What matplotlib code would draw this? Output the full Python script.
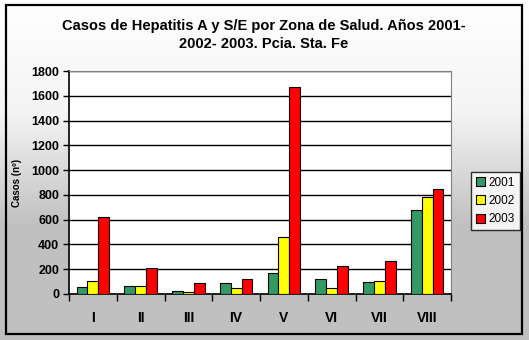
import numpy as np
import matplotlib.pyplot as plt
from matplotlib.patches import Rectangle

plt.rcParams['font.family'] = ['Liberation Sans', 'DejaVu Sans']

zonas = ['I', 'II', 'III', 'IV', 'V', 'VI', 'VII', 'VIII']
casos_2001 = [54, 62, 22, 86, 167, 118, 94, 675]
casos_2002 = [102, 62, 14, 46, 462, 51, 105, 780]
casos_2003 = [620, 207, 89, 121, 1668, 223, 264, 845]
anios = ['2001', '2002', '2003']
colores = ['#339966', '#FFFF00', '#FF0000']

fig = plt.figure(figsize=(5.29, 3.40), dpi=100)

# fondo con degradado blanco -> gris
bg = fig.add_axes([0, 0, 1, 1], zorder=-10)
grad = np.linspace(0, 1, 256).reshape(-1, 1)
bg.imshow(grad, cmap=plt.matplotlib.colors.LinearSegmentedColormap.from_list(
    'g', ['#ffffff', '#f4f4f4', '#c0c0c0', '#c0c0c0'], N=256),
    aspect='auto', extent=[0, 1, 0, 1], origin='upper')
bg.set_xlim(0, 1)
bg.set_ylim(0, 1)
bg.axis('off')
bg.add_patch(Rectangle((5.5 / 529, 1 - 334 / 340), 516 / 529, 329 / 340,
                       fill=False, edgecolor='black', linewidth=1.6))

W, H = 529, 340
ax = fig.add_axes([69 / W, 1 - 294 / H, (451 - 69) / W, (294 - 71) / H])
ax.set_facecolor('white')

x = np.arange(len(zonas))
w = 0.226
series = [casos_2001, casos_2002, casos_2003]
for i, (vals, c, lab) in enumerate(zip(series, colores, anios)):
    ax.bar(x + (i - 1) * w, vals, w, color=c, edgecolor='black',
           linewidth=0.8, label=lab, zorder=3)

ax.set_xlim(-0.5, len(zonas) - 0.5)
ax.set_ylim(0, 1800)
ax.set_yticks(range(0, 1801, 200))
ax.yaxis.grid(True, color='black', linewidth=1.0, zorder=1)
ax.set_axisbelow(True)

ax.set_xticks(x)
ax.set_xticklabels(zonas, fontweight='bold', fontsize=10)
ax.set_xticks(np.arange(-0.5, len(zonas)), minor=True)
ax.tick_params(axis='x', which='major', length=0, pad=12)
ax.tick_params(axis='x', which='minor', length=5, width=1, direction='out')
ax.tick_params(axis='y', length=4, width=1, direction='out', pad=3)
for t in ax.get_yticklabels():
    t.set_fontweight('bold')
    t.set_fontsize(9)

ax.spines['left'].set_color('black')
ax.spines['bottom'].set_color('black')
ax.spines['left'].set_linewidth(1.2)
ax.spines['bottom'].set_linewidth(1.2)
ax.spines['top'].set_color('#808080')
ax.spines['right'].set_color('#808080')

fig.text(17 / W, 1 - 183 / H, 'Casos (nº)', rotation=90, ha='center', va='center',
         fontsize=7, fontweight='bold')
fig.text(264 / W, 1 - 35 / H,
         'Casos de Hepatitis A y S/E por Zona de Salud. Años 2001-\n2002- 2003. Pcia. Sta. Fe',
         ha='center', va='center', fontsize=10.5, fontweight='bold', linespacing=1.4)

leg = ax.legend(loc='center left', bbox_to_anchor=(471 / W, 1 - 201 / H),
                bbox_transform=fig.transFigure, frameon=True, fancybox=False,
                edgecolor='black', fontsize=8.5, handlelength=0.8, handleheight=0.8,
                handletextpad=0.3, borderpad=0.4, labelspacing=0.55, borderaxespad=0)
leg.get_frame().set_linewidth(1.0)

fig.savefig('out.png', dpi=100)
